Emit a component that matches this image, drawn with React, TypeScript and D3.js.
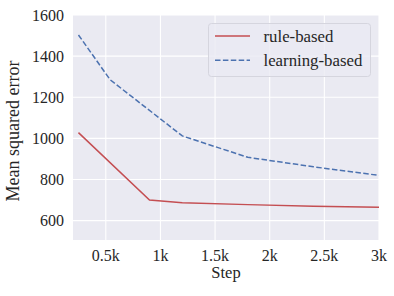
import React from 'react';
import * as d3 from 'd3';

const ruleSteps = [250, 900, 1200, 1800, 2400, 3000];
const ruleValues = [1028, 700, 687, 678, 670, 665];
const learnSteps = [250, 540, 1200, 1800, 2400, 3000];
const learnValues = [1503, 1285, 1012, 908, 862, 820];
const xTicks = [500, 1000, 1500, 2000, 2500, 3000];
const xTickLabels = ['0.5k', '1k', '1.5k', '2k', '2.5k', '3k'];
const yTicks = [600, 800, 1000, 1200, 1400, 1600];
const seriesNames = ['rule-based', 'learning-based'];

const W = 394;
const H = 296;
const margin = { top: 15, right: 15, bottom: 56, left: 73 };
const font = "'Liberation Serif', Tinos, 'Times New Roman', Times, serif";

export default function App() {
  const width = W - margin.left - margin.right;
  const height = H - margin.top - margin.bottom;

  const x = d3.scaleLinear().domain([200, 3000]).range([0, width]);
  const y = d3.scaleLinear().domain([506, 1600]).range([height, 0]);

  const line = d3.line<[number, number]>()
    .x(d => x(d[0]))
    .y(d => y(d[1]));

  const rule = ruleSteps.map((s, i) => [s, ruleValues[i]] as [number, number]);
  const learn = learnSteps.map((s, i) => [s, learnValues[i]] as [number, number]);

  const red = '#C44E52';
  const blue = '#4C72B0';
  const txt = { fontFamily: font, fontSize: 16, fill: '#262626' };

  return (
    <svg width={W} height={H} style={{ position: 'absolute', left: 0, top: 0, background: '#fff' }}>
      <g transform={`translate(${margin.left},${margin.top})`}>
        <rect width={width} height={height} fill="#EAEAF2" />
        {/* grid */}
        {xTicks.map(t => (
          <line key={'gx' + t} x1={x(t)} x2={x(t)} y1={0} y2={height} stroke="#fff" strokeWidth={1.1} />
        ))}
        {yTicks.map(t => (
          <line key={'gy' + t} x1={0} x2={width} y1={y(t)} y2={y(t)} stroke="#fff" strokeWidth={1.1} />
        ))}
        {/* lines */}
        <path d={line(rule) || ''} fill="none" stroke={red} strokeWidth={1.5} />
        <path d={line(learn) || ''} fill="none" stroke={blue} strokeWidth={1.5} strokeDasharray="5.5,2.4" />
        {/* tick labels */}
        {xTicks.map((t, i) => (
          <text key={'tx' + t} x={x(t)} y={height + 21} textAnchor="middle" style={txt}>
            {xTickLabels[i]}
          </text>
        ))}
        {yTicks.map(t => (
          <text key={'ty' + t} x={-9} y={y(t)} dy="0.35em" textAnchor="end" style={txt}>
            {t}
          </text>
        ))}
        <text x={width / 2} y={height + 38} textAnchor="middle" style={{ ...txt, fontSize: 16.5 }}>Step</text>
        <text transform={`translate(${-54},${height / 2 + 3.5}) rotate(-90)`} textAnchor="middle"
          style={{ ...txt, fontSize: 18 }}>
          Mean squared error
        </text>
        {/* legend */}
        <g transform={`translate(${208.5 - margin.left},${23.5 - margin.top})`}>
          <rect width={162} height={53} rx={3} fill="#EAEAF2" fillOpacity={0.8} stroke="#d5d5de" strokeWidth={1} />
          <line x1={6.5} x2={41.5} y1={12.5} y2={12.5} stroke={red} strokeWidth={1.5} />
          <line x1={6.5} x2={41.5} y1={36.8} y2={36.8} stroke={blue} strokeWidth={1.5} strokeDasharray="5.5,2.4" />
          <text x={55} y={12.5} dy="0.33em" style={{ ...txt, fontSize: 16.8 }}>{seriesNames[0]}</text>
          <text x={55} y={36.8} dy="0.33em" style={{ ...txt, fontSize: 16.8 }}>{seriesNames[1]}</text>
        </g>
      </g>
    </svg>
  );
}
